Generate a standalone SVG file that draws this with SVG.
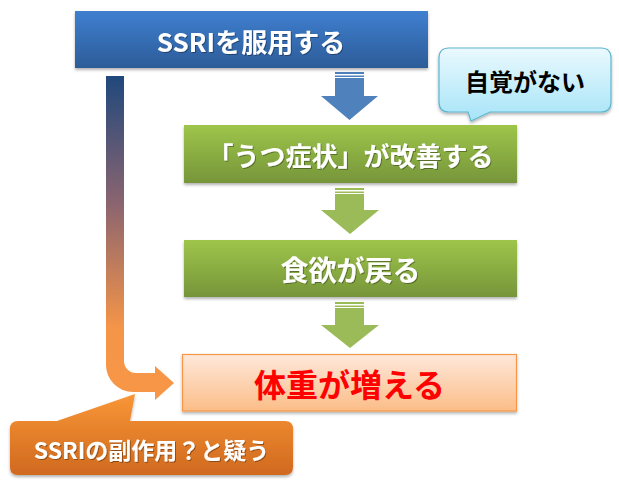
<svg xmlns="http://www.w3.org/2000/svg" width="619" height="486" viewBox="0 0 619 486">
<style>
.t{font-family:"Noto Sans CJK JP","Noto Sans",sans-serif;font-weight:bold;text-anchor:middle;dominant-baseline:central}
.w{fill:#ffffff}
</style>
<defs>
<linearGradient id="gBlue" x1="0" y1="0" x2="0" y2="1"><stop offset="0" stop-color="#3f7fd0"/><stop offset="1" stop-color="#2c5c98"/></linearGradient>
<linearGradient id="gGreen" x1="0" y1="0" x2="0" y2="1"><stop offset="0" stop-color="#9ec54a"/><stop offset="1" stop-color="#76953a"/></linearGradient>
<linearGradient id="gPeach" x1="0" y1="0" x2="0" y2="1"><stop offset="0" stop-color="#fee8da"/><stop offset="1" stop-color="#fbbd88"/></linearGradient>
<linearGradient id="gSky" x1="0" y1="0" x2="0" y2="1"><stop offset="0" stop-color="#eaf9fe"/><stop offset="1" stop-color="#a6e4f8"/></linearGradient>
<linearGradient id="gOrange" x1="0" y1="0" x2="0" y2="1"><stop offset="0" stop-color="#f99636"/><stop offset="1" stop-color="#d0691f"/></linearGradient>
<linearGradient id="gL" gradientUnits="userSpaceOnUse" x1="0" y1="76" x2="0" y2="392"><stop offset="0" stop-color="#1f487c"/><stop offset="0.4" stop-color="#8a6470"/><stop offset="0.8" stop-color="#f59548"/><stop offset="1" stop-color="#f79646"/></linearGradient>
<filter id="sh" x="-10%" y="-10%" width="120%" height="130%"><feDropShadow dx="0" dy="2" stdDeviation="1.5" flood-color="#000000" flood-opacity="0.3"/></filter>
<filter id="ts" x="-5%" y="-20%" width="110%" height="140%"><feDropShadow dx="1" dy="1" stdDeviation="0.6" flood-color="#000000" flood-opacity="0.35"/></filter>
</defs>

<g id="connectors">
<g id="arrow1" fill="#4f81bd">
<rect x="335" y="72" width="29" height="2"/>
<rect x="335" y="75.5" width="29" height="1.5"/>
<path d="M335 78 H364 V96 H378 L349.5 120 L321 96 H335 Z"/>
</g>
<g id="arrow2" fill="#9bbb59">
<rect x="335" y="188" width="29" height="2"/>
<rect x="335" y="191.5" width="29" height="1.5"/>
<path d="M335 194 H364 V210 H379 L350 234 L321 210 H335 Z"/>
</g>
<g id="arrow3" fill="#9bbb59">
<rect x="335" y="302" width="29" height="2"/>
<rect x="335" y="305.5" width="29" height="1.5"/>
<path d="M335 308 H364 V325 H379 L350 348 L321 325 H335 Z"/>
</g>
<path id="arrowL" fill="url(#gL)" d="M106 76 H124 V361 A12 12 0 0 0 136 373 H155 V366 L174 383 L155 400 V392 H133 A27 27 0 0 1 106 365 Z"/>
</g>

<g id="node-ssri">
<rect x="75" y="11" width="353" height="57" fill="url(#gBlue)" filter="url(#sh)"/>
<text class="t w" x="251" y="40" font-size="26" filter="url(#ts)">SSRIを服用する</text>
</g>

<g id="node-jikaku">
<path d="M449 48 H601 Q611 48 611 58 V102 Q611 112 601 112 H490 L471 121 L468 112 H449 Q439 112 439 102 V58 Q439 48 449 48 Z" fill="url(#gSky)" stroke="#5fb6cf" stroke-width="1.2" filter="url(#sh)"/>
<text class="t" x="525" y="80" font-size="24" fill="#000000">自覚がない</text>
</g>

<g id="node-utsu">
<rect x="184" y="125" width="333" height="58" fill="url(#gGreen)" filter="url(#sh)"/>
<text class="t w" x="350.5" y="154" font-size="26" filter="url(#ts)">「うつ症状」が改善する</text>
</g>

<g id="node-shokuyoku">
<rect x="184" y="240" width="333" height="57" fill="url(#gGreen)" filter="url(#sh)"/>
<text class="t w" x="350.5" y="268.5" font-size="28" filter="url(#ts)">食欲が戻る</text>
</g>

<g id="node-taiju">
<rect x="182.5" y="354.5" width="334" height="56.5" fill="url(#gPeach)" stroke="#f79646" stroke-width="1.2" filter="url(#sh)"/>
<text class="t" x="349.5" y="383" font-size="32" fill="#ff0000">体重が増える</text>
</g>

<g id="node-utagau">
<path d="M18 421 H57 L135 394 L130 421 H285 Q293 421 293 429 V467 Q293 475 285 475 H18 Q10 475 10 467 V429 Q10 421 18 421 Z" fill="url(#gOrange)" filter="url(#sh)"/>
<text class="t w" x="151.5" y="449" font-size="23" filter="url(#ts)">SSRIの副作用？と疑う</text>
</g>
</svg>
